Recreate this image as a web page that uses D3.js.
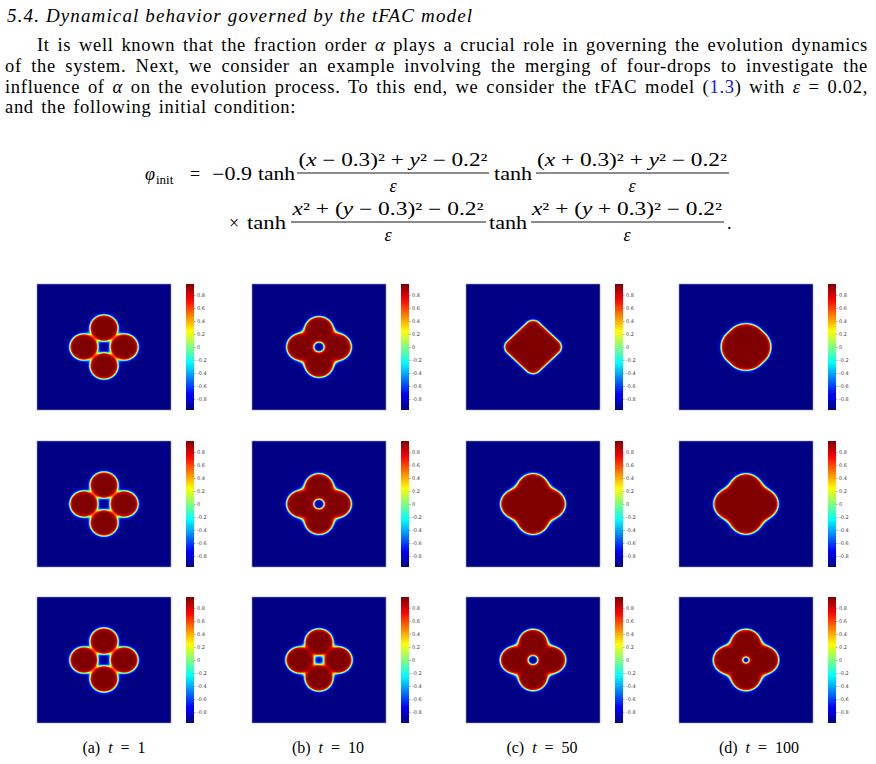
<!DOCTYPE html>
<meta charset="utf-8" />
<script src="https://cdn.jsdelivr.net/npm/d3@7"></script>
<style>
  body { margin: 0; background: white; }
  .serif { font-family: 'Liberation Serif', 'DejaVu Serif', serif; fill: #000; }
  .cbar text { font-family: 'DejaVu Sans', sans-serif; font-size: 5px; fill: #444; }
  .cbar line { stroke: #555; stroke-width: 0.5; }
</style>
<body>
<svg id="fig" width="876" height="764"></svg>
<script>
// ---- values ----
const times = ["1", "10", "50", "100"];
const letters = ["a", "b", "c", "d"];
const cbTicks = [-0.8, -0.6, -0.4, -0.2, 0, 0.2, 0.4, 0.6, 0.8];
const cRange = [-0.97, 0.97];

// one row per alpha, one column per time
const shapeKind = [
  ["flower", "flower", "box", "box"],
  ["flower", "flower", "flower", "flower"],
  ["flower", "flower", "flower", "flower"]];
const lobeDist = [[0.30, 0.27, 0, 0], [0.30, 0.27, 0.26, 0.255], [0.30, 0.285, 0.275, 0.27]];
const lobeRad  = [[0.212, 0.215, 0, 0], [0.212, 0.215, 0.225, 0.225], [0.212, 0.212, 0.215, 0.22]];
const blendK   = [[0.022, 0.05, 0, 0], [0.022, 0.05, 0.07, 0.08], [0.022, 0.032, 0.05, 0.06]];
const holeRad  = [[0, 0.075, 0, 0], [0, 0.075, 0, 0], [0, 0, 0.07, 0.045]];
const boxReach = [[0, 0, 0.425, 0.373], [0, 0, 0, 0], [0, 0, 0, 0]];
const cornerRad = [[0, 0, 0.13, 0.31], [0, 0, 0, 0], [0, 0, 0, 0]];
const iface = 0.022;

// ---- layout ----
const svg = d3.select("#fig");
svg.append("rect").attr("width", 876).attr("height", 764).attr("fill", "white");

const colX = [37, 252, 466, 679];
const rowY = [284, 441, 597];
const W = 134, H = 126;
const cbOff = 149, cbW = 8;

// jet colormap
const jetT = [0, 0.125, 0.375, 0.625, 0.875, 1];
const jetC = ["#000084", "#0000ff", "#00ffff", "#ffff00", "#ff0000", "#800000"];
const color = d3.scaleLinear()
  .domain(jetT.map(t => cRange[0] + t * (cRange[1] - cRange[0])))
  .range(jetC)
  .interpolate(d3.interpolateRgb)
  .clamp(true);
const lut = d3.range(256).map(i => d3.rgb(color(cRange[0] + i / 255 * (cRange[1] - cRange[0]))));

const xs = d3.scaleLinear().domain([-1, 1]).range([0, W]);
const ys = d3.scaleLinear().domain([1, -1]).range([0, H]);
const SQ2 = Math.SQRT2;

function dist(x, y, r, c) {
  if (shapeKind[r][c] == "box") {
    const rc = cornerRad[r][c];
    const b = rc + (boxReach[r][c] - rc) / SQ2;
    const u = (x + y) / SQ2, v = (x - y) / SQ2;
    const qx = Math.abs(u) - b + rc, qy = Math.abs(v) - b + rc;
    return Math.hypot(Math.max(qx, 0), Math.max(qy, 0)) + Math.min(Math.max(qx, qy), 0) - rc;
  }
  const D = lobeDist[r][c], R = lobeRad[r][c], k = blendK[r][c];
  const ds = [Math.hypot(x - D, y) - R, Math.hypot(x + D, y) - R,
              Math.hypot(x, y - D) - R, Math.hypot(x, y + D) - R];
  const m = d3.min(ds);
  let d = m - k * Math.log(d3.sum(ds, di => Math.exp(-(di - m) / k)));
  if (holeRad[r][c] > 0) d = Math.max(d, holeRad[r][c] - Math.hypot(x, y));
  return d;
}

function fieldImage(r, c) {
  const cvs = document.createElement("canvas");
  cvs.width = W; cvs.height = H;
  const ctx = cvs.getContext("2d");
  const img = ctx.createImageData(W, H);
  for (let j = 0; j < H; j++) {
    for (let i = 0; i < W; i++) {
      const x = xs.invert(i + 0.5), y = ys.invert(j + 0.5);
      const phi = -cRange[1] * Math.tanh(dist(x, y, r, c) / iface);
      const t = Math.round((phi - cRange[0]) / (cRange[1] - cRange[0]) * 255);
      const col = lut[Math.max(0, Math.min(255, t))];
      const p = (j * W + i) * 4;
      img.data[p] = col.r; img.data[p + 1] = col.g; img.data[p + 2] = col.b; img.data[p + 3] = 255;
    }
  }
  ctx.putImageData(img, 0, 0);
  return cvs.toDataURL();
}

// colorbar gradient
const defs = svg.append("defs");
const grad = defs.append("linearGradient").attr("id", "jet")
  .attr("x1", 0).attr("y1", 1).attr("x2", 0).attr("y2", 0);
grad.selectAll("stop").data(jetT).enter().append("stop")
  .attr("offset", d => d).attr("stop-color", (d, i) => jetC[i]);

const cbScale = d3.scaleLinear().domain(cRange).range([H, 0]);
const cbAxis = d3.axisRight(cbScale).tickValues(cbTicks).tickSize(1.5).tickPadding(1.5)
  .tickFormat(d => d === 0 ? "0" : d3.format(".1f")(d).replace("−", "-"));

rowY.forEach((py, r) => {
  colX.forEach((px, c) => {
    const g = svg.append("g").attr("transform", `translate(${px},${py})`);
    g.append("image").attr("href", fieldImage(r, c)).attr("width", W).attr("height", H);
    g.append("rect").attr("width", W).attr("height", H)
      .attr("fill", "none").attr("stroke", "#9a9ab4").attr("stroke-width", 0.6);
    const cb = g.append("g").attr("class", "cbar").attr("transform", `translate(${cbOff},0)`);
    cb.append("rect").attr("width", cbW).attr("height", H).attr("fill", "url(#jet)");
    cb.append("g").attr("transform", `translate(${cbW},0)`).call(cbAxis)
      .call(a => a.select(".domain").remove());
  });
});

// ---- text ----
function runs(sel, parts) {
  parts.forEach(p => {
    const t = sel.append("tspan").text(p[0]);
    if (p[1] && p[1].includes("i")) t.attr("font-style", "italic");
    if (p[1] && p[1].includes("b")) t.attr("fill", "#1010ee");
  });
  return sel;
}

svg.append("text").attr("class", "serif").attr("x", 7).attr("y", 22)
  .attr("font-size", 19).attr("font-style", "italic")
  .attr("textLength", 465).attr("lengthAdjust", "spacing")
  .text("5.4. Dynamical behavior governed by the tFAC model");

const paraLines = [
  [["It is well known that the fraction order "], ["α", "i"], [" plays a crucial role in governing the evolution dynamics"]],
  [["of the system. Next, we consider an example involving the merging of four-drops to investigate the"]],
  [["influence of "], ["α", "i"], [" on the evolution process. To this end, we consider the tFAC model ("], ["1.3", "b"], [") with "], ["ε", "i"], [" = 0.02,"]],
  [["and the following initial condition:"]]
];
const paraStart = [37, 5, 5, 5];
const paraBase = [51, 72, 93, 113];
paraLines.forEach((parts, i) => {
  const t = svg.append("text").attr("class", "serif").attr("x", paraStart[i]).attr("y", paraBase[i])
    .attr("font-size", 18.5).style("letter-spacing", "0.7px");
  runs(t, parts);
  if (i < 3) {
    const full = parts.map(p => p[0]).join("");
    const spaces = full.split(" ").length - 1;
    const len = t.node().getComputedTextLength();
    t.style("word-spacing", ((868 - paraStart[i] - len) / spaces) + "px");
  } else {
    t.style("word-spacing", "2px");
  }
});

// equation
const eq = svg.append("g").attr("class", "serif").attr("font-size", 18);
function put(x, y, parts, opts) {
  opts = opts || {};
  const t = eq.append("text").attr("x", x).attr("y", y);
  if (opts.size) t.attr("font-size", opts.size);
  if (opts.anchor) t.attr("text-anchor", opts.anchor);
  if (opts.len) t.attr("textLength", opts.len).attr("lengthAdjust", "spacingAndGlyphs");
  runs(t, parts);
  return t;
}
function frac(cx, x1, x2, yBar, num, numLen) {
  put(cx, yBar - 7, num, {anchor: "middle", len: numLen});
  eq.append("line").attr("x1", x1).attr("x2", x2).attr("y1", yBar).attr("y2", yBar)
    .attr("stroke", "#000").attr("stroke-width", 0.9);
  put(cx, yBar + 19, [["ε", "i"]], {anchor: "middle"});
}
const numA = [["("], ["x", "i"], [" − 0.3)² + "], ["y", "i"], ["² − 0.2²"]];
const numB = [["("], ["x", "i"], [" + 0.3)² + "], ["y", "i"], ["² − 0.2²"]];
const numC = [["x", "i"], ["² + ("], ["y", "i"], [" − 0.3)² − 0.2²"]];
const numD = [["x", "i"], ["² + ("], ["y", "i"], [" + 0.3)² − 0.2²"]];

put(145, 180, [["φ", "i"]]);
put(156, 184, [["init"]], {size: 13});
put(190, 180, [["="]]);
put(212, 180, [["−0.9"]], {len: 40});
put(258, 180, [["tanh"]], {len: 37});
frac(393, 297, 489, 173, numA, 189);
put(494, 180, [["tanh"]], {len: 38});
frac(632, 536, 729, 173, numB, 190);

put(229, 229, [["×"]]);
put(247, 229, [["tanh"]], {len: 39});
frac(388, 291, 486, 222, numC, 191);
put(489, 229, [["tanh"]], {len: 38});
frac(627, 531, 724, 222, numD, 190);
put(727, 229, [["."]]);

// captions
const capX = [114, 328, 542, 759];
times.forEach((t, i) => {
  const tx = svg.append("text").attr("class", "serif").attr("x", capX[i]).attr("y", 753)
    .attr("font-size", 16).attr("text-anchor", "middle").style("word-spacing", "4px");
  runs(tx, [["(" + letters[i] + ") "], ["t", "i"], [" = " + t]]);
});
</script>
</body>
